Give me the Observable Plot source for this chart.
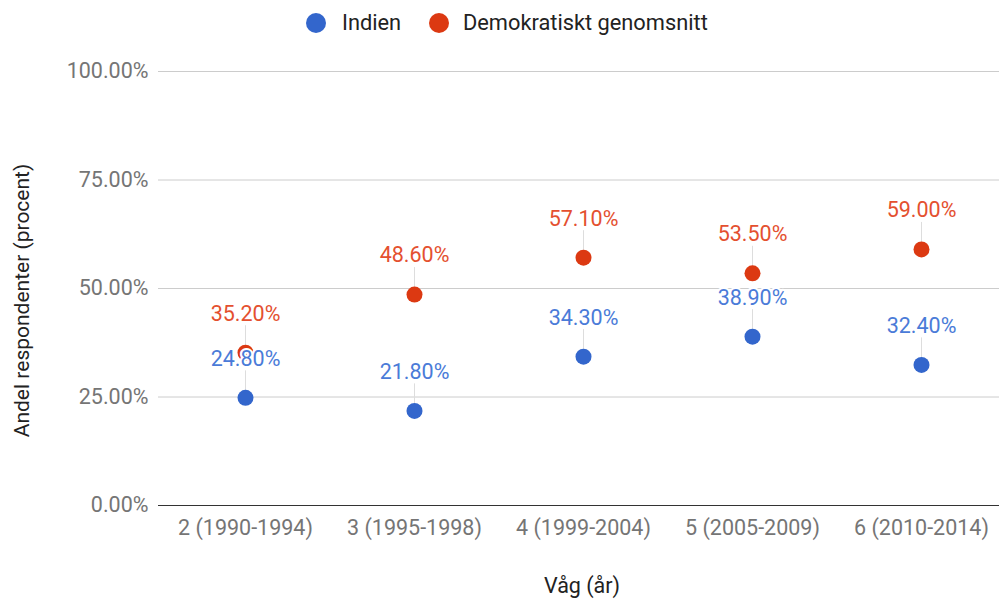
<!DOCTYPE html>
<html><head><meta charset="utf-8">
<script src="https://cdn.jsdelivr.net/npm/d3@7"></script>
<script src="https://cdn.jsdelivr.net/npm/@observablehq/plot@0.6"></script>
<style>
body{margin:0;background:#fff;font-family:Roboto,sans-serif;}
#legend{position:relative;height:45px;width:999px;font-size:21.8px;line-height:21px;color:#222;}
.sw{position:absolute;width:20px;height:20px;border-radius:50%;top:13px;}
.lb{position:absolute;top:12px;white-space:nowrap;}
</style>
</head><body>
<div id="legend"></div>
<div id="chart"></div>
<script>
const waves = ["2 (1990-1994)", "3 (1995-1998)", "4 (1999-2004)", "5 (2005-2009)", "6 (2010-2014)"];
const indien = [24.8, 21.8, 34.3, 38.9, 32.4];
const demokratiskt = [35.2, 48.6, 57.1, 53.5, 59.0];
const seriesNames = ["Indien", "Demokratiskt genomsnitt"];
const seriesColors = ["#3366cc", "#dc3912"];
const labelColors = ["#4a7bd8", "#e4502f"];
const yTicks = [0, 25, 50, 75, 100];

// legend
const legend = document.getElementById("legend");
const legendPos = [[306, 342], [429, 463]];
seriesNames.forEach((n, i) => {
  const s = document.createElement("div");
  s.className = "sw"; s.style.left = legendPos[i][0] + "px"; s.style.background = seriesColors[i];
  const t = document.createElement("div");
  t.className = "lb"; t.style.left = legendPos[i][1] + "px"; t.textContent = n;
  legend.appendChild(s); legend.appendChild(t);
});

const redData = waves.map((w, i) => ({wave: w, v: demokratiskt[i], s: seriesNames[1]}));
const blueData = waves.map((w, i) => ({wave: w, v: indien[i], s: seriesNames[0]}));
const all = [...redData, ...blueData];
const fmt = d => d.toFixed(2) + "%";

const chart = Plot.plot({
  width: 999,
  height: 556,
  marginTop: 26,
  marginBottom: 96,
  marginLeft: 158,
  marginRight: 0,
  style: {fontFamily: "Roboto, sans-serif", fontSize: "21.5px", background: "#fff"},
  x: {type: "point", domain: waves, range: [243, 922], padding: 0},
  y: {domain: [0, 100]},
  color: {domain: seriesNames, range: seriesColors},
  marks: [
    Plot.ruleY(yTicks.filter(d => d > 0), {stroke: "#cccccc"}),
    Plot.ruleY([0], {stroke: "#333"}),
    Plot.axisY({ticks: yTicks, tickFormat: fmt, tickSize: 0, tickPadding: 10, label: null, color: "#757575"}),
    Plot.axisX({tickSize: 0, tickPadding: 14, label: null, color: "#757575"}),
    Plot.ruleX(all, {x: "wave", y1: "v", y2: "v", insetTop: -27, stroke: "#dddddd"}),
    Plot.dot(redData, {x: "wave", y: "v", r: 8, fill: "s", stroke: null}),
    Plot.dot(blueData, {x: "wave", y: "v", r: 8, fill: "s", stroke: null}),
    Plot.text(redData, {x: "wave", y: "v", text: d => fmt(d.v), dy: -39, fill: labelColors[1], stroke: "white", strokeWidth: 4}),
    Plot.text(blueData, {x: "wave", y: "v", text: d => fmt(d.v), dy: -39, fill: labelColors[0], stroke: "white", strokeWidth: 4}),
    Plot.text(["Andel respondenter (procent)"], {frameAnchor: "left", textAnchor: "middle", rotate: -90, dx: -136, dy: 12, fill: "#222", fontSize: 21}),
    Plot.text(["Våg (år)"], {frameAnchor: "bottom", dx: 3, dy: 87, fill: "#222"})
  ]
});
document.getElementById("chart").appendChild(chart);
</script>
</body></html>
